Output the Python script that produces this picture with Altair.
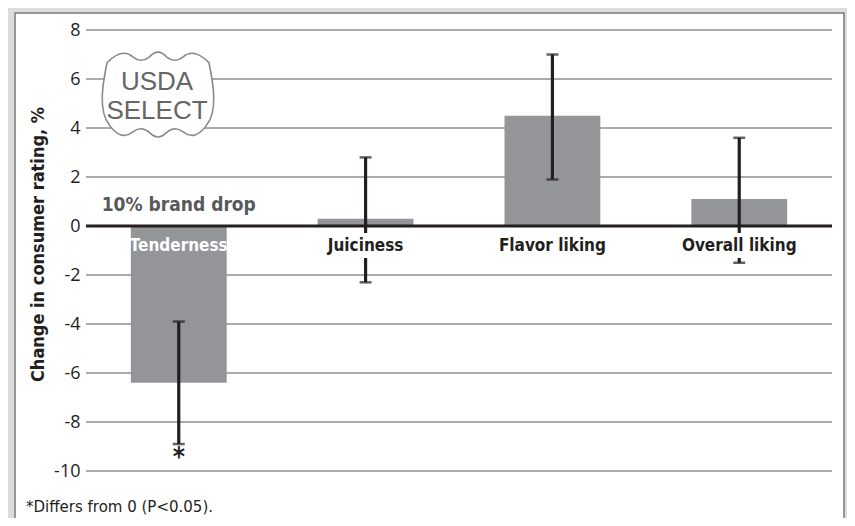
import altair as alt
import pandas as pd

# ---------------- data ----------------
categories = ["Tenderness", "Juiciness", "Flavor liking", "Overall liking"]
changes = [-6.4, 0.3, 4.5, 1.1]
err_high = [-3.9, 2.8, 7.0, 3.6]
err_low = [-8.9, -2.3, 1.9, -1.5]
significant = [True, False, False, False]
y_ticks = [-10, -8, -6, -4, -2, 0, 2, 4, 6, 8]
y_title = "Change in consumer rating, %"
annotation = "10% brand drop"
badge_lines = ["USDA", "SELECT"]
footnote = "*Differs from 0 (P<0.05)."

df = pd.DataFrame({
    "category": categories,
    "change": changes,
    "hi": err_high,
    "lo": err_low,
    "sig": significant,
})
df["label_color"] = ["white" if v < -1.5 else "#231f20" for v in changes]
df["boxed"] = [v >= 0 for v in changes]

grid_df = pd.DataFrame({"tick": [t for t in y_ticks if t != 0]})
zero_df = pd.DataFrame({"tick": [0]})
one = pd.DataFrame({"a": [0]})
annot_df = pd.DataFrame({"category": [categories[0]], "text": [annotation]})
badge_df = pd.DataFrame({"text": ["\n".join(badge_lines)]})
note_df = pd.DataFrame({"text": [footnote]})

BOLD = "DejaVu Sans Condensed, DejaVu Sans, sans-serif"
REG = "Open Sans, sans-serif"
INK = "#231f20"

yscale = alt.Scale(domain=[-10, 8], nice=False, zero=False)
yaxis = alt.Axis(values=y_ticks, grid=False, ticks=False, domain=False,
                 labelExpr="'' + datum.value",
                 labelFont=REG, labelFontSize=18, labelColor=INK, labelPadding=6,
                 title=y_title, titleFont=BOLD, titleFontSize=18, titleFontWeight="bold",
                 titleColor=INK, titleX=-48, titleY=214, titleAngle=-90,
                 titleAlign="center", titleBaseline="middle", zindex=1)


def Y(field):
    return alt.Y(field, type="quantitative", scale=yscale, axis=yaxis)


X = alt.X("category:N", sort=categories,
          scale=alt.Scale(paddingInner=0.487, paddingOuter=0.24), axis=None)

panel = alt.Chart(one).mark_rect(fill="white", stroke="#7a7a7a", strokeWidth=1.5).encode(
    x=alt.value(-71), x2=alt.value(758), y=alt.value(-17), y2=alt.value(530))

grid = alt.Chart(grid_df).mark_rule(color="#8f8f8f", strokeWidth=1.3).encode(y=Y("tick"))

bars = alt.Chart(df).mark_bar(color="#939598").encode(x=X, y=Y("change"))

err = alt.Chart(df).mark_rule(color=INK, strokeWidth=3.2).encode(x=X, y=Y("hi"), y2="lo")
cap_hi = alt.Chart(df).mark_tick(color=INK, size=12, thickness=2.5).encode(x=X, y=Y("hi"))
cap_lo = alt.Chart(df).mark_tick(color=INK, size=12, thickness=2.5).encode(x=X, y=Y("lo"))

boxes = alt.Chart(df).transform_filter("datum.boxed").mark_bar(color="white").encode(
    x=X, y=alt.value(203), y2=alt.value(228))

labels = alt.Chart(df).mark_text(font=BOLD, fontSize=17, fontWeight="bold",
                                 baseline="middle").encode(
    x=X, y=alt.value(216), text="category:N",
    color=alt.Color("label_color:N", scale=None))

zero = alt.Chart(zero_df).mark_rule(color=INK, strokeWidth=3).encode(y=Y("tick"))

stars = alt.Chart(df).transform_filter("datum.sig").mark_text(
    text="*", font=BOLD, fontSize=26, fontWeight="bold", color=INK,
    baseline="top", dy=1).encode(x=X, y=Y("lo"))

annot = alt.Chart(annot_df).mark_text(font=BOLD, fontSize=19, fontWeight="bold",
                                      color="#58595b", baseline="middle").encode(
    x=X, y=alt.value(175), text="text:N")

shield_path = ("M -0.88 -0.56 Q -0.62 -0.82 -0.435 -0.66 Q -0.29 -0.54 -0.145 -0.66 "
               "Q 0 -0.82 0.145 -0.66 Q 0.29 -0.54 0.435 -0.66 Q 0.62 -0.82 0.88 -0.56 "
               "C 0.93 -0.3 1.06 0.25 0.84 0.52 "
               "Q 0.64 0.80 0.44 0.64 Q 0.29 0.52 0.145 0.65 Q 0 0.80 -0.145 0.65 "
               "Q -0.29 0.52 -0.44 0.64 Q -0.64 0.80 -0.84 0.52 "
               "C -1.06 0.25 -0.93 -0.3 -0.88 -0.56 Z")

badge = alt.Chart(one).mark_point(shape=shield_path, size=13400, filled=True,
                                  fill="white", stroke="#8a8a8a", strokeWidth=1.6,
                                  opacity=1, fillOpacity=1).encode(
    x=alt.value(72), y=alt.value(65))

badge_text = alt.Chart(badge_df).mark_text(font="Liberation Sans, Arial, sans-serif",
                                           fontSize=26, color="#666666",
                                           lineBreak="\n", lineHeight=28.5,
                                           baseline="middle").encode(
    x=alt.value(71), y=alt.value(52), text="text:N")

note = alt.Chart(note_df).mark_text(font="DejaVu Sans, sans-serif", fontSize=15,
                                    color=INK, align="left", baseline="middle").encode(
    x=alt.value(-60), y=alt.value(477), text="text:N")

chart = alt.layer(panel, grid, bars, err, cap_hi, cap_lo, boxes, labels, zero,
                  stars, annot, badge, badge_text, note).properties(
    width=746, height=441,
    autosize=alt.AutoSizeParams(type="none"),
    padding={"left": 78, "top": 22, "right": 15, "bottom": 47},
    background="#dcdcdc",
).configure_view(stroke=None)

chart.save("out.html", embed_options={"renderer": "svg", "actions": False})
